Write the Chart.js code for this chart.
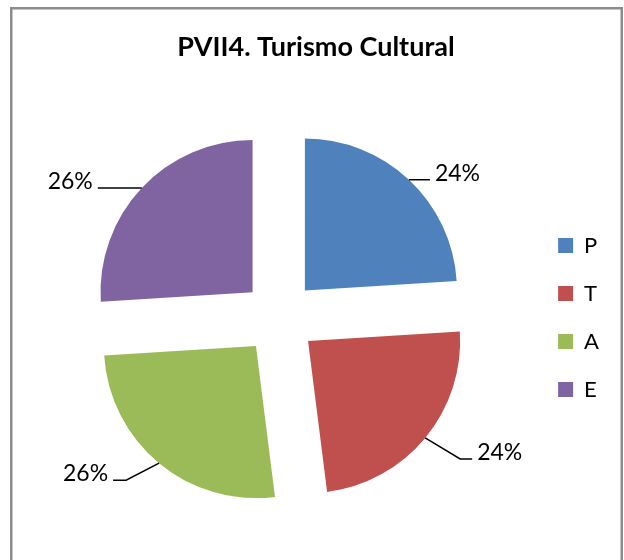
<!DOCTYPE html>
<html><head><meta charset="utf-8">
<script src="https://cdn.jsdelivr.net/npm/chart.js@4/dist/chart.umd.min.js"></script>
<style>html,body{margin:0;padding:0;background:#fff;} canvas{display:block}</style>
</head><body>
<canvas id="c" width="624" height="560"></canvas>
<script>
const categories = ['P', 'T', 'A', 'E'];
const percentValues = [24, 24, 26, 26];
const sliceColors = ['#4F81BD', '#C0504D', '#9BBB59', '#8064A2'];
const chartTitle = 'PVII4. Turismo Cultural';

const FONT = 'Lato, "Open Sans", sans-serif';

// leader line shapes (styling): bend point and end point relative to arc anchor
const leaderShapes = [
  {bend: [0, 0], end: [21, 0]},
  {bend: [35, 21], end: [47, 21]},
  {bend: [-33, 17], end: [-46, 17]},
  {bend: [0, 0], end: [-44, 0]}
];

const framePlugin = {
  id: 'frame',
  beforeDraw(chart) {
    const ctx = chart.ctx;
    ctx.save();
    ctx.fillStyle = '#fff';
    ctx.fillRect(0, 0, chart.width, chart.height);
    ctx.strokeStyle = '#8c8c8c';
    ctx.lineWidth = 2.5;
    ctx.beginPath();
    ctx.moveTo(11.25, chart.height + 5);
    ctx.lineTo(11.25, 8.25);
    ctx.lineTo(621.75, 8.25);
    ctx.lineTo(621.75, chart.height + 5);
    ctx.stroke();
    ctx.restore();
  },
  afterDraw(chart) {
    const ctx = chart.ctx;
    ctx.save();
    ctx.fillStyle = '#000';
    ctx.font = 'bold 27px ' + FONT;
    ctx.textAlign = 'center';
    ctx.textBaseline = 'alphabetic';
    ctx.fillText(chartTitle, 316, 56);
    ctx.restore();
  }
};

const labelPlugin = {
  id: 'pctLabels',
  afterDatasetsDraw(chart) {
    const ctx = chart.ctx;
    const meta = chart.getDatasetMeta(0);
    const data = chart.data.datasets[0].data;
    const total = data.reduce((a, b) => a + b, 0);
    ctx.save();
    ctx.strokeStyle = '#000';
    ctx.lineWidth = 1.5;
    ctx.fillStyle = '#000';
    ctx.font = '23px ' + FONT;
    ctx.textBaseline = 'alphabetic';
    meta.data.forEach((arc, i) => {
      const p = arc.getProps(['x', 'y', 'startAngle', 'endAngle', 'outerRadius'], true);
      const mid = (p.startAngle + p.endAngle) / 2;
      const off = (arc.options.offset || 0) / 4;
      const ax = p.x + Math.cos(mid) * (p.outerRadius + off);
      const ay = p.y + Math.sin(mid) * (p.outerRadius + off);
      const s = leaderShapes[i];
      ctx.beginPath();
      ctx.moveTo(ax, ay);
      ctx.lineTo(ax + s.bend[0], ay + s.bend[1]);
      ctx.lineTo(ax + s.end[0], ay + s.end[1]);
      ctx.stroke();
      const txt = Math.round(data[i] / total * 100) + '%';
      const right = s.end[0] > 0;
      ctx.textAlign = right ? 'left' : 'right';
      ctx.fillText(txt, ax + s.end[0] + (right ? 5 : -5), ay + s.end[1] + 1);
    });
    ctx.restore();
  }
};

new Chart(document.getElementById('c'), {
  type: 'pie',
  data: {
    labels: categories,
    datasets: [{
      data: percentValues,
      backgroundColor: sliceColors,
      borderWidth: 0,
      offset: 148,
      hoverOffset: 0
    }]
  },
  options: {
    responsive: false,
    animation: false,
    devicePixelRatio: 1,
    radius: 152,
    layout: {padding: {left: 27, right: 15, top: 75, bottom: 0}},
    plugins: {
      legend: {
        position: 'right',
        labels: {
          boxWidth: 15,
          boxHeight: 15,
          padding: 26,
          color: '#000',
          font: {family: FONT, size: 22}
        }
      },
      title: {display: false},
      tooltip: {enabled: false}
    }
  },
  plugins: [framePlugin, labelPlugin]
});
</script>
</body></html>
